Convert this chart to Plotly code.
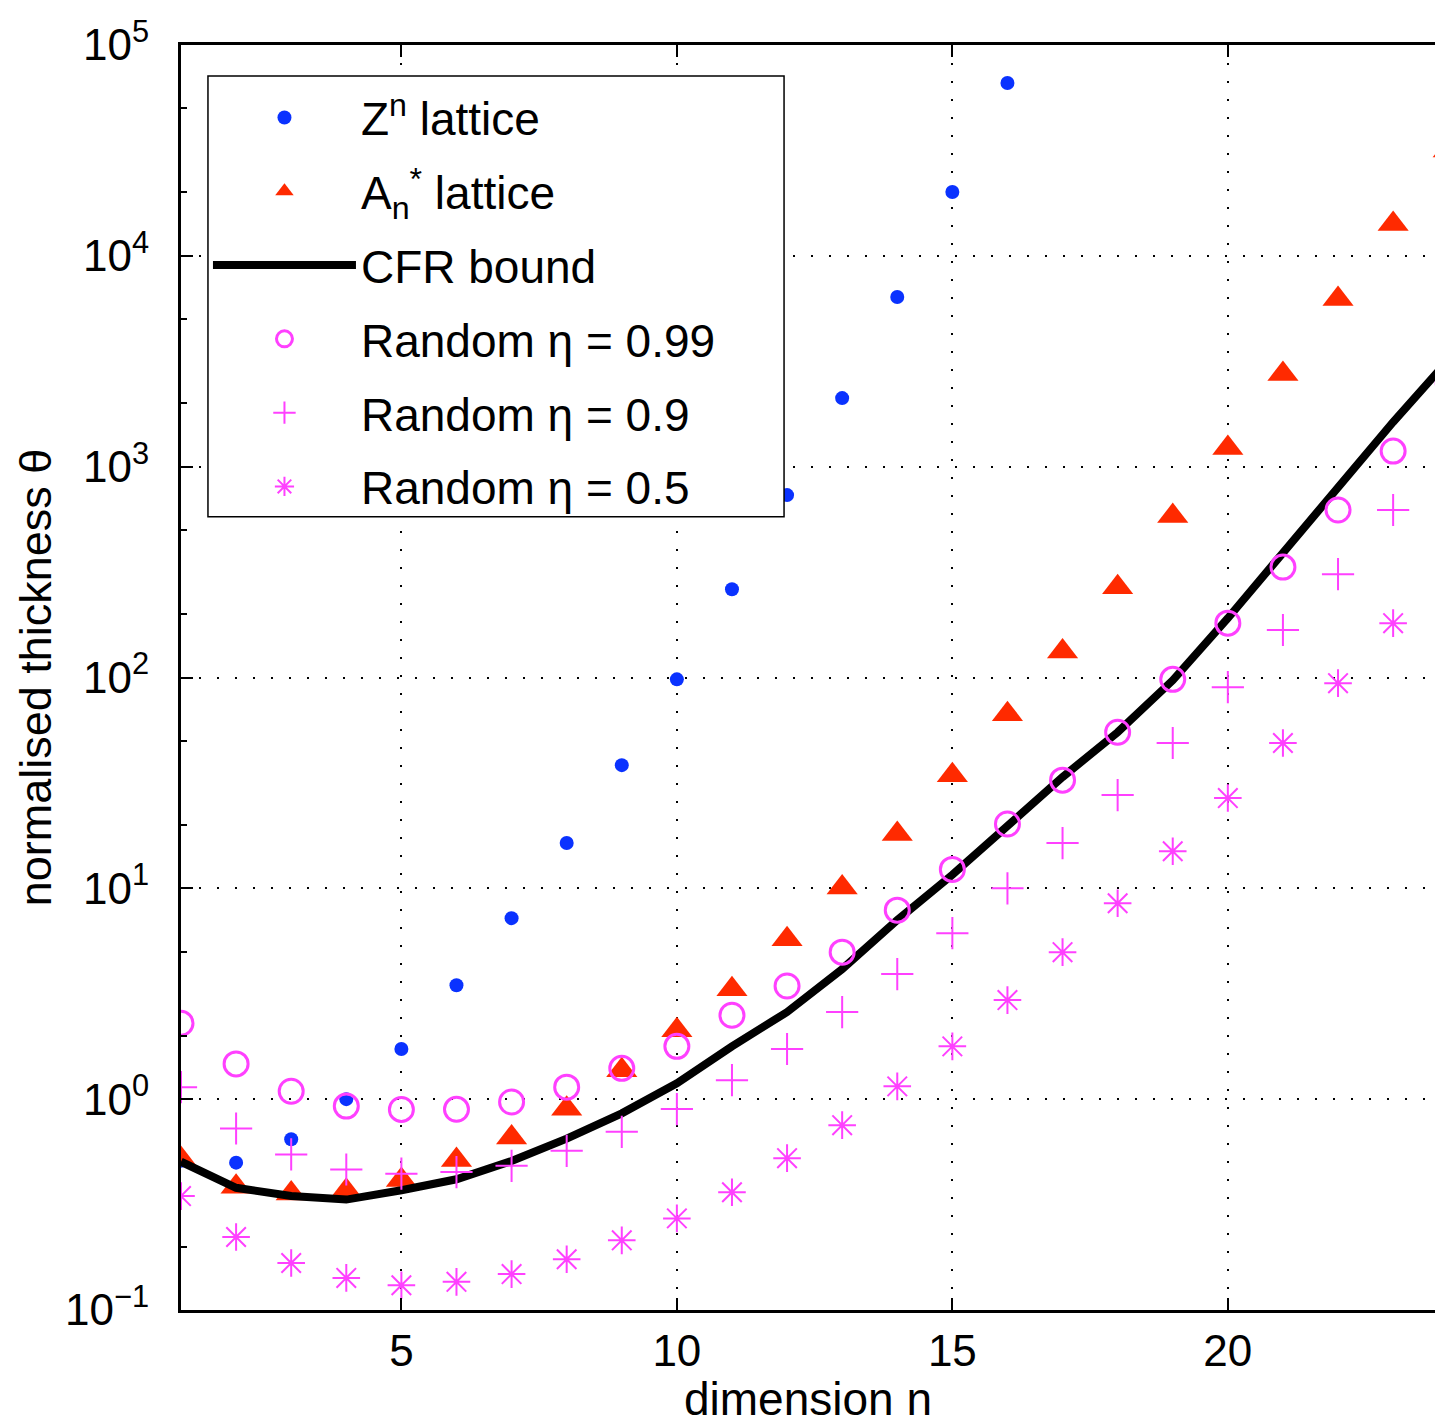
import plotly.graph_objects as go

n_z = list(range(1, 17))
z_lattice = [0.51, 0.50, 0.645, 1.0, 1.73, 3.47, 7.22, 16.4, 38.4, 98, 262, 733, 2115, 6380, 20090, 66000]

n_a = list(range(1, 25))
a_lattice = [0.52, 0.384, 0.357, 0.368, 0.414, 0.515, 0.658, 0.90, 1.37, 2.12, 3.32, 5.74,
             10.1, 18.1, 34.4, 67, 133, 268, 583, 1225, 2750, 6240, 14150, 31600]

n_cfr = list(range(1, 25))
cfr_bound = [0.505, 0.38, 0.347, 0.334, 0.37, 0.417, 0.509, 0.65, 0.857, 1.19, 1.78, 2.59,
             4.14, 7.07, 11.6, 19.7, 33.7, 55, 97, 191, 393, 800, 1628, 3200]

n_r = list(range(1, 25))
rand_099 = [2.29, 1.47, 1.09, 0.927, 0.894, 0.895, 0.97, 1.14, 1.40, 1.78, 2.50, 3.44,
            4.98, 7.88, 12.3, 20.2, 32.6, 55, 98, 181, 334, 623, 1185, 2490]
n_r9 = list(range(1, 24))
rand_09 = [1.14, 0.726, 0.547, 0.464, 0.443, 0.451, 0.483, 0.569, 0.70, 0.897, 1.23, 1.73,
           2.59, 3.92, 6.13, 10.0, 16.4, 27.7, 48.9, 90, 168, 309, 623]
rand_05 = [0.347, 0.222, 0.167, 0.142, 0.131, 0.136, 0.148, 0.174, 0.214, 0.272, 0.362, 0.525,
           0.753, 1.15, 1.78, 2.95, 4.98, 8.5, 15.0, 26.8, 48.9, 94, 181]

x_ticks = [5, 10, 15, 20]
y_ticks = [0.1, 1, 10, 100, 1000, 10000, 100000]
y_tick_text = ["10<sup>−1</sup>", "10<sup>0</sup>", "10<sup>1</sup>", "10<sup>2</sup>",
               "10<sup>3</sup>", "10<sup>4</sup>", "10<sup>5</sup>"]

BLUE = "#0A32FF"
RED = "#FF2A00"
MAG = "#FF40FF"
FONT = "Liberation Sans, Arial, sans-serif"

fig = go.Figure()
fig.add_trace(go.Scatter(x=n_z, y=z_lattice, mode="markers", name="Z<sup>n</sup> lattice",
                         legendgroup="g1",
                         marker=dict(symbol="circle", size=14, color=BLUE)))
fig.add_trace(go.Scatter(x=n_a, y=a_lattice, mode="markers", name="A<sub>n</sub><sup>*</sup> lattice",
                         legendgroup="g2",
                         marker=dict(symbol="triangle-up", size=27, color=RED)))
fig.add_trace(go.Scatter(x=n_cfr, y=cfr_bound, mode="lines", name="CFR bound",
                         legendgroup="g3",
                         line=dict(color="black", width=8)))
fig.add_trace(go.Scatter(x=n_r, y=rand_099, mode="markers", name="Random η = 0.99",
                         legendgroup="g4",
                         marker=dict(symbol="circle-open", size=24, color=MAG, line=dict(width=3, color=MAG))))
fig.add_trace(go.Scatter(x=n_r9, y=rand_09, mode="markers", name="Random η = 0.9",
                         legendgroup="g5",
                         marker=dict(symbol="cross-thin-open", size=23, color=MAG, line=dict(width=2, color=MAG))))
fig.add_trace(go.Scatter(x=n_r9, y=rand_05, mode="markers", name="Random η = 0.5",
                         legendgroup="g6",
                         marker=dict(symbol="asterisk-open", size=23, color=MAG, line=dict(width=2, color=MAG))))

# legend frame (white box behind the legend entries)
fig.add_shape(type="rect", xref="paper", yref="paper",
              x0=0.0215, x1=0.4809, y0=0.627, y1=0.9755,
              line=dict(color="black", width=1.5), fillcolor="white", layer="above")

fig.update_layout(
    width=1435, height=1425,
    margin=dict(l=181, r=0, t=45, b=115, autoexpand=False),
    paper_bgcolor="white", plot_bgcolor="white",
    font=dict(family=FONT, size=44, color="black"),
    legend=dict(x=0.0215, y=0.9715, xanchor="left", yanchor="top",
                borderwidth=0, bgcolor="rgba(0,0,0,0)",
                font=dict(size=46), itemwidth=143, tracegroupgap=11,
                itemsizing="trace"),
    showlegend=True,
)
fig.update_xaxes(
    range=[1, 23.76], tickvals=x_ticks, ticktext=[str(v) for v in x_ticks],
    ticks="inside", ticklen=12, tickwidth=1.5, tickcolor="black",
    showline=True, linecolor="black", linewidth=3, mirror="ticks",
    showgrid=True, gridcolor="black", gridwidth=1.5, griddash="2px,16px",
    zeroline=False, ticklabelstandoff=0, automargin=False,
    title=dict(text="dimension n", font=dict(size=46), standoff=6),
)
fig.update_yaxes(
    type="log", range=[-1, 5], tickvals=y_ticks, ticktext=y_tick_text,
    ticks="inside", ticklen=12, tickwidth=1.5, tickcolor="black",
    minor=dict(ticks="inside", ticklen=6, tickwidth=1.5, tickcolor="black", showgrid=False),
    showline=True, linecolor="black", linewidth=3, mirror=False,
    showgrid=True, gridcolor="black", gridwidth=1.5, griddash="2px,16px",
    zeroline=False, ticklabelstandoff=20, automargin=False,
    title=dict(text="normalised thickness θ", font=dict(size=45), standoff=0),
)

fig.write_html("out.html")
